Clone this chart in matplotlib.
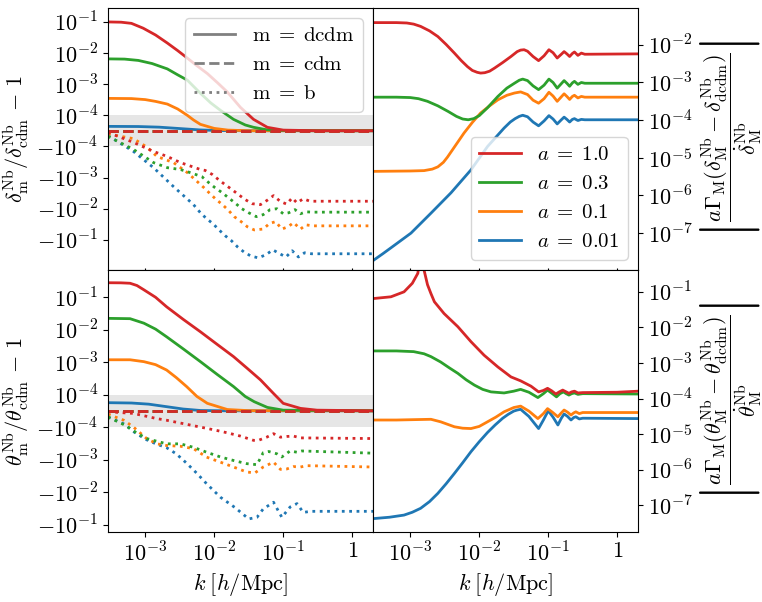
import numpy as np
import matplotlib
matplotlib.use("Agg")
import matplotlib.pyplot as plt
from matplotlib.lines import Line2D
from matplotlib.ticker import NullLocator, NullFormatter

plt.rcParams["mathtext.fontset"] = "cm"
plt.rcParams["font.family"] = "serif"
plt.rcParams["font.serif"] = ["cmr10", "DejaVu Serif"]
plt.rcParams["axes.formatter.use_mathtext"] = True

# scale factors, drawn back to front so that a = 1.0 ends on top
A_LABELS = ["0.01", "0.1", "0.3", "1.0"]
COLORS = ["#1f77b4", "#ff7f0e", "#2ca02c", "#d62728"]

K_ENDS = [-3.54, 0.31]          # log10 k of the flat cdm curves
CDM_DELTA = [-1e-6, -1e-6]
CDM_THETA = [-1e-6, -1e-6]

# ---- top left: delta_m / delta_cdm - 1 (log10 k, value) ----
dcdm_delta_k_001 = [-3.54, -3.1, -2.8, -2.5, -2.2, -1.9, -1.5, 0.31]
dcdm_delta_001 = [2.9e-5, 2.8e-5, 2.4e-5, 1.5e-5, 6e-6, 2e-6, 1e-6, 1e-6]
dcdm_delta_k_01 = [-3.54, -3.2, -3.0, -2.85, -2.68, -2.53, -2.39, -2.3, -2.2, -2.0, -1.8, -1.5, 0.31]
dcdm_delta_01 = [3.5e-4, 3.45e-4, 3.2e-4, 2.8e-4, 2.3e-4, 1.6e-4, 1.0e-4, 7e-5, 4.2e-5, 1.6e-5, 5e-6, 1e-6, 1e-6]
dcdm_delta_k_03 = [-3.54, -3.3, -3.1, -2.9, -2.68, -2.53, -2.39, -2.2, -2.05, -1.91, -1.72, -1.55, -1.43, -1.25, -1.14, -0.5, 0.31]
dcdm_delta_03 = [6.5e-3, 6.4e-3, 5.8e-3, 4.6e-3, 3.1e-3, 2.0e-3, 1.35e-3, 5.1e-4, 2.5e-4, 1.45e-4, 7.4e-5, 3.8e-5, 2.3e-5, 8e-6, 4e-6, 1e-6, 1e-6]
dcdm_delta_k_1 = [-3.54, -3.35, -3.2, -3.03, -2.85, -2.68, -2.53, -2.39, -2.25, -2.10, -1.95, -1.81, -1.62, -1.43, -1.23, -1.0, -0.5, 0.31]
dcdm_delta_1 = [0.100, 0.098, 0.090, 0.063, 0.038, 0.021, 0.012, 6.9e-3, 3.9e-3, 2.2e-3, 1.1e-3, 5.6e-4, 1.8e-4, 7.4e-5, 2.3e-5, 5e-6, 1e-6, 1e-6]

b_delta_k_001 = [-3.54, -3.17, -2.88, -2.59, -2.30, -2.20, -2.11, -2.02, -1.93, -1.84, -1.75, -1.66, -1.57, -1.47, -1.36, -1.25, -1.15, -1.05, -0.96, -0.87, -0.78, -0.69, -0.59, 0.31]
b_delta_001 = [-3.0e-5, -1.45e-4, -4.8e-4, -1.95e-3, -7.4e-3, -1.35e-2, -2.1e-2, -3.0e-2, -4.8e-2, -7.4e-2, -0.107, -0.17, -0.245, -0.33, -0.38, -0.30, -0.21, -0.28, -0.355, -0.224, -0.355, -0.26, -0.28, -0.28]
b_delta_k_01 = [-3.54, -3.17, -2.97, -2.83, -2.59, -2.39, -2.15, -2.06, -1.97, -1.88, -1.79, -1.71, -1.61, -1.52, -1.42, -1.29, -1.20, -1.11, -1.02, -0.93, -0.85, -0.75, -0.67, -0.57, 0.31]
b_delta_01 = [-2e-5, -5e-5, -1.07e-4, -2.1e-4, -3.3e-4, -6.9e-4, -2.1e-3, -3.3e-3, -5.1e-3, -7.4e-3, -1.15e-2, -1.8e-2, -2.6e-2, -3.8e-2, -4.8e-2, -4.5e-2, -3.0e-2, -2.6e-2, -4.5e-2, -3.8e-2, -2.8e-2, -4.5e-2, -3.3e-2, -3.55e-2, -3.55e-2]
b_delta_k_03 = [-3.54, -3.17, -2.88, -2.68, -2.49, -2.35, -2.18, -2.08, -1.99, -1.89, -1.79, -1.70, -1.60, -1.50, -1.39, -1.29, -1.19, -1.09, -1.0, -0.92, -0.83, -0.75, -0.67, -0.57, 0.31]
b_delta_03 = [-3.5e-5, -1.25e-4, -3.3e-4, -4.8e-4, -5.5e-4, -6.9e-4, -9.3e-4, -1.45e-3, -2.1e-3, -3.0e-3, -4.5e-3, -6.5e-3, -1.0e-2, -1.35e-2, -1.8e-2, -1.55e-2, -1.07e-2, -1.0e-2, -1.45e-2, -1.35e-2, -1.07e-2, -1.45e-2, -1.26e-2, -1.29e-2, -1.29e-2]
b_delta_k_1 = [-3.54, -3.17, -2.88, -2.68, -2.49, -2.20, -2.13, -2.03, -1.94, -1.84, -1.74, -1.65, -1.55, -1.45, -1.33, -1.24, -1.14, -1.04, -0.95, -0.87, -0.80, -0.71, -0.61, -0.51, 0.31]
b_delta_1 = [-1.0e-5, -7.4e-5, -1.45e-4, -2.1e-4, -3.3e-4, -5.5e-4, -5.9e-4, -7.9e-4, -1.15e-3, -1.7e-3, -2.45e-3, -3.5e-3, -5.1e-3, -6.9e-3, -7.4e-3, -5.5e-3, -3.8e-3, -5.9e-3, -7.1e-3, -4.5e-3, -6.5e-3, -4.8e-3, -5.75e-3, -5.75e-3, -5.75e-3]

# ---- bottom left: theta_m / theta_cdm - 1 ----
dcdm_theta_k_001 = [-3.54, -3.2, -2.95, -2.7, -2.45, -2.2, -1.8, 0.31]
dcdm_theta_001 = [5.2e-5, 5.0e-5, 4.3e-5, 2.8e-5, 1.3e-5, 4e-6, 2e-6, 2e-6]
dcdm_theta_k_01 = [-3.54, -3.22, -3.02, -2.85, -2.69, -2.55, -2.40, -2.25, -2.10, -1.81, -1.5, 0.31]
dcdm_theta_01 = [1.2e-3, 1.2e-3, 1.05e-3, 8.5e-4, 5.8e-4, 3.4e-4, 1.8e-4, 9e-5, 4.8e-5, 1e-5, 3e-6, 2e-6]
dcdm_theta_k_03 = [-3.54, -3.22, -3.02, -2.85, -2.69, -2.45, -2.20, -1.96, -1.72, -1.55, -1.42, -1.23, -1.0, 0.31]
dcdm_theta_03 = [0.0225, 0.022, 0.016, 0.0105, 6.1e-3, 2.6e-3, 1.05e-3, 4.3e-4, 1.8e-4, 9e-5, 5.8e-5, 2.3e-5, 6e-6, 2e-6]
dcdm_theta_k_1 = [-3.54, -3.35, -3.22, -3.12, -3.02, -2.85, -2.69, -2.45, -2.20, -1.96, -1.72, -1.52, -1.33, -1.14, -1.0, -0.75, -0.51, 0.31]
dcdm_theta_1 = [0.28, 0.278, 0.27, 0.23, 0.17, 0.10, 0.051, 0.021, 8.7e-3, 3.6e-3, 1.5e-3, 6.5e-4, 2.9e-4, 1.1e-4, 4.8e-5, 1.7e-5, 6e-6, 2e-6]

b_theta_k_001 = [-3.54, -3.3, -3.14, -2.98, -2.83, -2.69, -2.55, -2.40, -2.25, -2.11, -1.91, -1.70, -1.50, -1.38, -1.29, -1.14, -1.02, -0.90, -0.80, -0.71, -0.60, 0.31]
b_theta_001 = [-3.6e-5, -8e-5, -1.5e-4, -2.4e-4, -3.3e-4, -4.2e-4, -6.5e-4, -1.26e-3, -2.6e-3, -5.4e-3, -1.4e-2, -2.9e-2, -6.5e-2, -5.8e-2, -3.2e-2, -2.0e-2, -5.8e-2, -2.8e-2, -2.2e-2, -4.1e-2, -3.8e-2, -3.8e-2]
b_theta_k_01 = [-3.54, -3.31, -3.17, -2.98, -2.83, -2.69, -2.49, -2.30, -2.11, -1.91, -1.72, -1.53, -1.41, -1.29, -1.14, -1.04, -0.95, -0.85, -0.75, -0.66, 0.31]
b_theta_01 = [-1.9e-5, -5.6e-5, -9.8e-5, -2.2e-4, -3.2e-4, -3.6e-4, -3.8e-4, -4.5e-4, -8.2e-4, -1.17e-3, -1.65e-3, -2.35e-3, -2.5e-3, -1.65e-3, -1.17e-3, -1.95e-3, -1.9e-3, -1.6e-3, -1.65e-3, -1.5e-3, -1.65e-3]
b_theta_k_03 = [-3.54, -3.29, -3.14, -2.98, -2.69, -2.49, -2.30, -2.11, -1.91, -1.72, -1.53, -1.38, -1.29, -1.21, -1.09, -1.02, -0.90, -0.80, -0.73, 0.31]
b_theta_03 = [-3.6e-5, -8.7e-5, -1.4e-4, -2.2e-4, -3.2e-4, -3.2e-4, -4.1e-4, -5.8e-4, -8.1e-4, -1.04e-3, -1.3e-3, -1.4e-3, -6.0e-4, -5.5e-4, -6.5e-4, -8.1e-4, -5.3e-4, -5.8e-4, -5.3e-4, -6.2e-4]
b_theta_k_1 = [-3.54, -3.17, -2.83, -2.69, -2.40, -2.20, -2.01, -1.82, -1.62, -1.43, -1.36, -1.24, -1.14, -1.04, -0.95, -0.85, -0.75, 0.31]
b_theta_1 = [-4e-6, -1.4e-5, -4.6e-5, -5.6e-5, -8.1e-5, -9.8e-5, -1.18e-4, -1.45e-4, -1.85e-4, -2.5e-4, -2.5e-4, -2.0e-4, -1.56e-4, -2.0e-4, -1.9e-4, -1.85e-4, -2.1e-4, -2.2e-4]

# ---- top right: log10 |a Gamma (delta_M - delta_dcdm) / delta_M'| ----
rd_k_001 = [-3.54, -3.40, -3.28, -2.99, -2.70, -2.41, -2.12, -1.88, -1.64, -1.55, -1.48, -1.42, -1.37, -1.30, -1.22, -1.14, -1.06, -0.99, -0.93, -0.87, -0.81, -0.77, -0.73, -0.69, -0.65, -0.62, -0.57, -0.52, -0.47, 0.31]
rd_001 = [-7.73, -7.55, -7.39, -7.0, -6.47, -5.93, -5.32, -4.70, -4.21, -4.05, -3.96, -3.90, -3.87, -3.91, -4.05, -4.15, -4.02, -3.88, -3.97, -4.10, -3.99, -3.92, -3.98, -4.05, -3.98, -3.96, -4.01, -3.98, -3.99, -3.99]
rd_k_01 = [-3.54, -3.0, -2.80, -2.68, -2.60, -2.52, -2.46, -2.34, -2.22, -2.10, -1.98, -1.85, -1.73, -1.60, -1.49, -1.40, -1.30, -1.22, -1.14, -1.06, -0.99, -0.93, -0.87, -0.81, -0.77, -0.73, -0.69, -0.65, -0.62, -0.57, -0.52, -0.47, 0.31]
rd_01 = [-5.36, -5.35, -5.34, -5.30, -5.24, -5.12, -4.98, -4.66, -4.34, -4.06, -3.81, -3.62, -3.46, -3.34, -3.28, -3.25, -3.32, -3.47, -3.55, -3.43, -3.26, -3.36, -3.50, -3.38, -3.30, -3.37, -3.45, -3.37, -3.34, -3.41, -3.37, -3.39, -3.39]
rd_k_03 = [-3.54, -3.2, -3.0, -2.88, -2.75, -2.60, -2.45, -2.33, -2.24, -2.16, -2.08, -2.0, -1.88, -1.73, -1.60, -1.49, -1.42, -1.37, -1.30, -1.22, -1.14, -1.06, -0.99, -0.93, -0.87, -0.81, -0.77, -0.73, -0.69, -0.65, -0.62, -0.57, -0.52, -0.47, 0.31]
rd_03 = [-3.39, -3.39, -3.40, -3.43, -3.50, -3.62, -3.77, -3.90, -3.97, -3.99, -3.96, -3.88, -3.67, -3.37, -3.15, -3.02, -2.94, -2.91, -2.95, -3.09, -3.19, -3.07, -2.91, -3.0, -3.15, -3.03, -2.95, -3.02, -3.10, -3.01, -2.97, -3.05, -3.0, -3.02, -3.02]
rd_k_1 = [-3.54, -3.2, -3.05, -2.95, -2.85, -2.72, -2.60, -2.48, -2.36, -2.26, -2.17, -2.10, -2.03, -1.98, -1.92, -1.85, -1.78, -1.66, -1.54, -1.45, -1.40, -1.35, -1.30, -1.22, -1.14, -1.06, -0.99, -0.93, -0.87, -0.81, -0.77, -0.73, -0.69, -0.65, -0.62, -0.57, -0.52, -0.47, 0.31]
rd_1 = [-1.41, -1.41, -1.42, -1.45, -1.51, -1.63, -1.78, -1.99, -2.22, -2.42, -2.58, -2.68, -2.73, -2.75, -2.74, -2.70, -2.62, -2.47, -2.31, -2.18, -2.14, -2.13, -2.17, -2.31, -2.42, -2.29, -2.13, -2.21, -2.35, -2.25, -2.18, -2.24, -2.31, -2.23, -2.19, -2.28, -2.22, -2.25, -2.24]

# ---- bottom right: log10 |a Gamma (theta_M - theta_dcdm) / theta_M'| ----
rt_k_001 = [-3.54, -3.3, -3.09, -2.97, -2.85, -2.72, -2.60, -2.48, -2.36, -2.24, -2.12, -2.00, -1.88, -1.77, -1.66, -1.58, -1.50, -1.45, -1.40, -1.28, -1.14, -1.07, -1.00, -0.93, -0.86, -0.81, -0.77, -0.72, -0.67, -0.63, -0.60, -0.55, -0.50, 0.31]
rt_001 = [-7.37, -7.33, -7.27, -7.19, -7.08, -6.89, -6.66, -6.39, -6.10, -5.80, -5.49, -5.21, -4.95, -4.74, -4.55, -4.44, -4.35, -4.32, -4.30, -4.50, -4.84, -4.60, -4.34, -4.52, -4.74, -4.55, -4.43, -4.50, -4.60, -4.53, -4.51, -4.57, -4.55, -4.56]
rt_k_01 = [-3.54, -3.2, -2.95, -2.70, -2.56, -2.46, -2.36, -2.24, -2.12, -2.00, -1.88, -1.76, -1.64, -1.50, -1.40, -1.28, -1.15, -1.07, -1.01, -0.94, -0.86, -0.81, -0.77, -0.72, -0.67, -0.63, -0.60, -0.55, -0.50, 0.31]
rt_01 = [-4.60, -4.60, -4.59, -4.58, -4.65, -4.72, -4.79, -4.83, -4.84, -4.78, -4.65, -4.52, -4.37, -4.25, -4.21, -4.35, -4.56, -4.42, -4.28, -4.38, -4.51, -4.40, -4.32, -4.38, -4.46, -4.40, -4.37, -4.42, -4.39, -4.39]
rt_k_03 = [-3.54, -3.2, -2.95, -2.80, -2.70, -2.56, -2.43, -2.31, -2.19, -2.07, -1.95, -1.83, -1.64, -1.50, -1.40, -1.28, -1.15, -1.07, -1.01, -0.94, -0.88, -0.83, -0.78, -0.74, -0.70, -0.66, -0.62, -0.57, -0.50, 0.31]
rt_03 = [-2.66, -2.66, -2.68, -2.74, -2.82, -2.97, -3.14, -3.29, -3.47, -3.62, -3.74, -3.81, -3.84, -3.79, -3.74, -3.82, -3.97, -3.86, -3.76, -3.86, -3.95, -3.86, -3.81, -3.86, -3.90, -3.86, -3.84, -3.88, -3.86, -3.87]
rt_k_1 = [-3.54, -3.28, -3.09, -2.97, -2.89, -2.86, -2.82, -2.80, -2.75, -2.70, -2.65, -2.51, -2.31, -2.12, -1.93, -1.73, -1.54, -1.40, -1.25, -1.14, -1.07, -1.01, -0.95, -0.89, -0.84, -0.79, -0.75, -0.70, -0.66, -0.62, -0.57, -0.50, 0.0, 0.31]
rt_1 = [-1.19, -1.14, -1.0, -0.76, -0.48, 0.0, 0.0, -0.39, -0.80, -1.05, -1.28, -1.61, -1.98, -2.40, -2.78, -3.11, -3.39, -3.50, -3.65, -3.81, -3.77, -3.71, -3.78, -3.87, -3.81, -3.76, -3.80, -3.85, -3.81, -3.79, -3.84, -3.83, -3.82, -3.79]

X_TICKS = [1e-3, 1e-2, 1e-1, 1]
X_TICK_LABELS = [r"$10^{-3}$", r"$10^{-2}$", r"$10^{-1}$", r"$1$"]
SYM_TICKS = [-1e-1, -1e-2, -1e-3, -1e-4, 1e-4, 1e-3, 1e-2, 1e-1]
SYM_TICK_LABELS = [r"$-10^{-1}$", r"$-10^{-2}$", r"$-10^{-3}$", r"$-10^{-4}$",
                   r"$10^{-4}$", r"$10^{-3}$", r"$10^{-2}$", r"$10^{-1}$"]

TICK_SIZE = 16
LABEL_SIZE = 16
LEGEND_SIZE = 15
LW = 2.0


def k_of(logk):
    return 10 ** np.asarray(logk)


def style_left(ax, ylim):
    ax.set_yscale("symlog", linthresh=1e-4, linscale=0.45)
    ax.axhspan(-1e-4, 1e-4, color="0.9", zorder=0, lw=0)
    ax.set_ylim(*ylim)
    ax.set_yticks(SYM_TICKS)
    ax.set_yticklabels(SYM_TICK_LABELS)
    ax.yaxis.set_minor_locator(NullLocator())
    ax.tick_params(axis="y", labelsize=TICK_SIZE)


def style_right(ax, ylim, ticks):
    ax.set_yscale("log")
    ax.set_ylim(*ylim)
    ax.yaxis.tick_right()
    ax.yaxis.set_label_position("right")
    ax.set_yticks(ticks)
    ax.set_yticklabels([r"$10^{%d}$" % round(np.log10(t)) for t in ticks])
    ax.yaxis.set_minor_locator(NullLocator())
    ax.tick_params(axis="y", which="both", left=False, right=True, labelsize=TICK_SIZE)


fig, axes = plt.subplots(2, 2, sharex=True, figsize=(7.62, 6.02), dpi=100)
fig.subplots_adjust(left=0.1417, right=0.8373, bottom=0.1163, top=0.9867, hspace=0, wspace=0)
ax_dl, ax_dr = axes[0]
ax_tl, ax_tr = axes[1]

left_delta = [
    (dcdm_delta_k_001, dcdm_delta_001, b_delta_k_001, b_delta_001),
    (dcdm_delta_k_01, dcdm_delta_01, b_delta_k_01, b_delta_01),
    (dcdm_delta_k_03, dcdm_delta_03, b_delta_k_03, b_delta_03),
    (dcdm_delta_k_1, dcdm_delta_1, b_delta_k_1, b_delta_1),
]
left_theta = [
    (dcdm_theta_k_001, dcdm_theta_001, b_theta_k_001, b_theta_001),
    (dcdm_theta_k_01, dcdm_theta_01, b_theta_k_01, b_theta_01),
    (dcdm_theta_k_03, dcdm_theta_03, b_theta_k_03, b_theta_03),
    (dcdm_theta_k_1, dcdm_theta_1, b_theta_k_1, b_theta_1),
]
right_delta = [(rd_k_001, rd_001), (rd_k_01, rd_01), (rd_k_03, rd_03), (rd_k_1, rd_1)]
right_theta = [(rt_k_001, rt_001), (rt_k_01, rt_01), (rt_k_03, rt_03), (rt_k_1, rt_1)]

for i, color in enumerate(COLORS):
    for ax, series, cdm in ((ax_dl, left_delta[i], CDM_DELTA), (ax_tl, left_theta[i], CDM_THETA)):
        kd, vd, kb, vb = series
        ax.plot(k_of(kd), vd, color=color, lw=LW, ls="-")
        ax.plot(k_of(K_ENDS), cdm, color=color, lw=LW, ls="--")
        ax.plot(k_of(kb), vb, color=color, lw=LW, ls=":")
    for ax, (kk, lg) in ((ax_dr, right_delta[i]), (ax_tr, right_theta[i])):
        ax.plot(k_of(kk), 10 ** np.asarray(lg), color=color, lw=LW)

style_left(ax_dl, (-0.93, 0.28))
style_left(ax_tl, (-0.164, 0.69))
style_right(ax_dr, (1.05e-8, 0.095), [1e-7, 1e-6, 1e-5, 1e-4, 1e-3, 1e-2])
style_right(ax_tr, (1.8e-8, 0.41), [1e-7, 1e-6, 1e-5, 1e-4, 1e-3, 1e-2, 1e-1])

ax_dl.set_xscale("log")
ax_dl.set_xlim(10 ** K_ENDS[0], 10 ** K_ENDS[1] - 0.04)
for ax in axes.flat:
    ax.set_xticks(X_TICKS)
    ax.xaxis.set_minor_formatter(NullFormatter())
for ax in axes[1]:
    ax.set_xticklabels(X_TICK_LABELS)
    ax.tick_params(axis="x", labelsize=TICK_SIZE)
    ax.set_xlabel(r"$k\;[h/\mathrm{Mpc}]$", fontsize=LABEL_SIZE)
for ax in axes[0]:
    ax.tick_params(axis="x", which="both", direction="inout")

ax_dl.set_ylabel(r"$\delta_{\mathrm{m}}^{\mathrm{Nb}}/\delta_{\mathrm{cdm}}^{\mathrm{Nb}}\,-\,1$", fontsize=LABEL_SIZE)
ax_tl.set_ylabel(r"$\theta_{\mathrm{m}}^{\mathrm{Nb}}/\theta_{\mathrm{cdm}}^{\mathrm{Nb}}\,-\,1$", fontsize=LABEL_SIZE)
ax_dr.set_ylabel(r"$\left|\dfrac{a\Gamma_{\mathrm{M}}(\delta_{\mathrm{M}}^{\mathrm{Nb}}-\delta_{\mathrm{dcdm}}^{\mathrm{Nb}})}"
                 r"{\dot{\delta}_{\mathrm{M}}^{\mathrm{Nb}}}\right|$", fontsize=LABEL_SIZE)
ax_tr.set_ylabel(r"$\left|\dfrac{a\Gamma_{\mathrm{M}}(\theta_{\mathrm{M}}^{\mathrm{Nb}}-\theta_{\mathrm{dcdm}}^{\mathrm{Nb}})}"
                 r"{\dot{\theta}_{\mathrm{M}}^{\mathrm{Nb}}}\right|$", fontsize=LABEL_SIZE)

style_handles = [Line2D([], [], color="grey", lw=LW, ls=ls) for ls in ("-", "--", ":")]
ax_dl.legend(style_handles,
             [r"$\mathrm{m}\;=\;\mathrm{dcdm}$", r"$\mathrm{m}\;=\;\mathrm{cdm}$", r"$\mathrm{m}\;=\;\mathrm{b}$"],
             loc="upper right", fontsize=LEGEND_SIZE)

a_handles = [Line2D([], [], color=c, lw=LW) for c in COLORS[::-1]]
ax_dr.legend(a_handles, [r"$a\;=\;%s$" % a for a in A_LABELS[::-1]],
             loc="lower right", fontsize=LEGEND_SIZE)

fig.savefig("out.png", dpi=100)
